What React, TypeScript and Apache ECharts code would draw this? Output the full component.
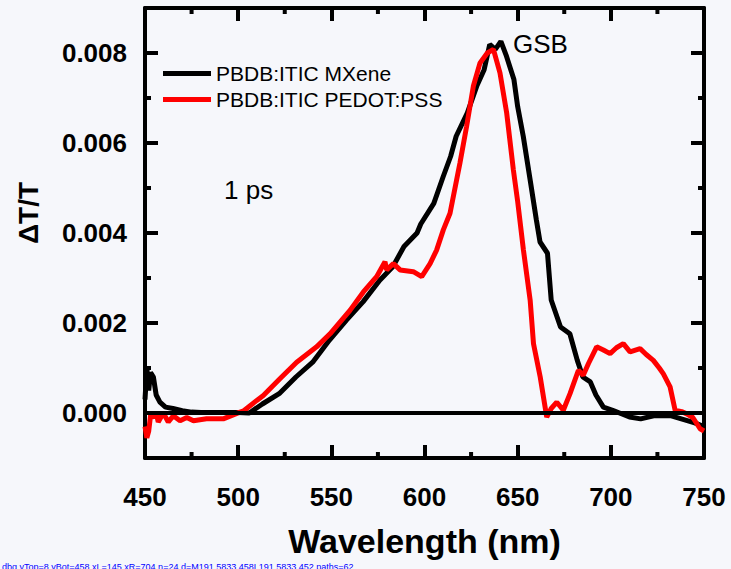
import React, { useEffect, useRef } from "react";
import * as echarts from "echarts";

const xTicks = [450, 500, 550, 600, 650, 700, 750];
const xMinorTicks = [475, 525, 575, 625, 675, 725];
const yMajorTicks = [0, 0.002, 0.004, 0.006, 0.008];
const yMinorTicks = [-0.001, 0.001, 0.003, 0.005, 0.007, 0.009];

const mxWl = [450, 451, 452, 453, 454.5, 456, 458, 461, 465, 470, 475, 480, 490, 500, 506, 513, 522, 531, 540, 549, 558, 567, 576, 583, 589, 596, 598, 605, 610, 614, 617, 623, 628, 632, 635, 638, 641, 644, 648, 650, 653, 657, 660, 662, 666, 668, 673, 678, 682, 685, 689, 692, 696, 701, 710, 716, 723, 732, 741, 745, 750];
const mxVal = [0.0003, 0.001, 0.0005, 0.0009, 0.0008, 0.0004, 0.00024, 0.00013, 0.0001, 0.00005, 0.00002, 0.00001, 0.00001, 0.00001, 0, 0.0002, 0.00043, 0.0008, 0.00113, 0.00162, 0.00206, 0.00247, 0.00295, 0.00325, 0.0037, 0.004, 0.0042, 0.00466, 0.00525, 0.0057, 0.00615, 0.00667, 0.00726, 0.00763, 0.00819, 0.00808, 0.00826, 0.00793, 0.00741, 0.00681, 0.00615, 0.0051, 0.0043, 0.0038, 0.00355, 0.00251, 0.00191, 0.00176, 0.00117, 0.0008, 0.00069, 0.0004, 0.00013, 0.00006, -0.00009, -0.00013, -0.00006, -0.00006, -0.00017, -0.00022, -0.0003];

const pdWl = [450, 451, 452, 453, 454.5, 456, 457.1, 459.8, 462.5, 465.2, 468.8, 472.4, 476, 483, 492, 501, 503, 510, 513.5, 522.4, 531.4, 542.1, 549.3, 560, 567.2, 574.3, 578.8, 579.7, 583.3, 586.9, 594, 598.5, 603, 606.5, 610.1, 613.7, 619, 622.6, 626.2, 629.8, 633.7, 637, 640.5, 644.1, 647.7, 650, 653.1, 656.7, 658.5, 662.1, 665.6, 668, 671, 674.5, 678.1, 682.6, 685.2, 688, 692.4, 696, 699.6, 703, 706.7, 710.3, 715.7, 719, 722.8, 726, 728.2, 731.8, 734.5, 738, 740.7, 744, 747.9, 750];
const pdVal = [-0.0003, -0.00055, -0.0004, -0.00005, -0.0001, 0, -0.0002, 0, -0.0002, -0.00006, -0.00017, -0.0001, -0.00017, -0.00013, -0.00013, 0.00002, 0.00005, 0.00028, 0.00039, 0.00076, 0.00113, 0.00147, 0.00176, 0.00228, 0.00269, 0.00303, 0.00336, 0.00318, 0.00332, 0.00318, 0.00314, 0.00303, 0.00332, 0.00362, 0.00407, 0.00444, 0.00555, 0.00637, 0.00726, 0.00778, 0.008, 0.00808, 0.00756, 0.00667, 0.0054, 0.0047, 0.00362, 0.00251, 0.00154, 0.0008, -0.00009, 0.0001, 0.00024, 0.00006, 0.00043, 0.00095, 0.00084, 0.0011, 0.00147, 0.0014, 0.00132, 0.00145, 0.00154, 0.00136, 0.00143, 0.0013, 0.00117, 0.001, 0.00087, 0.00058, 0.00006, 0.00003, -0.00002, -0.0001, -0.00035, -0.0004];

const seriesNames = ["PBDB:ITIC MXene", "PBDB:ITIC PEDOT:PSS"];
const FONT = "Liberation Sans, Arial, sans-serif";

export default function App() {
  const ref = useRef<HTMLDivElement>(null);
  useEffect(() => {
    if (!ref.current) return;
    const chart = echarts.init(ref.current, undefined, { renderer: "svg" });
    const lineW = 5;
    const tickStyle = { color: "#000", width: 4 };
    const yBase = {
      type: "value",
      min: -0.001,
      max: 0.009,
      splitLine: { show: false },
      axisLine: { show: true, onZero: false, lineStyle: { color: "#000", width: 4 } },
    };
    const majorY = { show: true, inside: true, length: 13, lineStyle: tickStyle, customValues: yMajorTicks };
    const minorY = { show: true, inside: true, length: 6, lineStyle: tickStyle, customValues: yMinorTicks };
    const majorX = { show: true, inside: true, length: 13, lineStyle: tickStyle, customValues: xTicks };
    const minorX = { show: true, inside: true, length: 6, lineStyle: tickStyle, customValues: xMinorTicks };
    const texts: any[] = [
      {
        type: "text",
        x: 28,
        y: 213,
        rotation: Math.PI / 2,
        style: { text: "ΔT/T", fontFamily: FONT, fontSize: 28, fontWeight: "bold", fill: "#000", align: "center", verticalAlign: "middle" },
      },
      { type: "text", x: 513, y: 44, style: { text: "GSB", fontFamily: FONT, fontSize: 26, fill: "#000", align: "left", verticalAlign: "middle" } },
      { type: "text", x: 224, y: 190, style: { text: "1 ps", fontFamily: FONT, fontSize: 26, fill: "#000", align: "left", verticalAlign: "middle" } },
    ];
    chart.setOption({
      animation: false,
      backgroundColor: "#f6f7fb",
      grid: { left: 145, right: 27, top: 8, bottom: 111 },
      legend: {
        orient: "vertical",
        left: 158,
        top: 58,
        itemWidth: 48,
        itemHeight: 5,
        itemGap: 5,
        icon: "rect",
        data: seriesNames,
        textStyle: { fontFamily: FONT, fontSize: 21, color: "#000" },
      },
      xAxis: [
        {
          type: "value",
          min: 450,
          max: 750,
          position: "bottom",
          axisLine: { show: true, onZero: false, lineStyle: { color: "#000", width: 4 } },
          axisTick: majorX,
          splitLine: { show: false },
          name: "Wavelength (nm)",
          nameLocation: "middle",
          nameGap: 66,
          nameTextStyle: { fontFamily: FONT, fontSize: 34, fontWeight: "bold", color: "#000" },
          axisLabel: { show: true, margin: 26, fontFamily: FONT, fontSize: 26, fontWeight: "bold", color: "#000", customValues: xTicks },
        },
        {
          type: "value",
          min: 450,
          max: 750,
          position: "top",
          axisLine: { show: true, onZero: false, lineStyle: { color: "#000", width: 4 } },
          axisTick: majorX,
          splitLine: { show: false },
          axisLabel: { show: false },
        },
      ],
      yAxis: [
        {
          ...yBase,
          position: "left",
          axisTick: majorY,
          axisLabel: {
            show: true, margin: 18, fontFamily: FONT, fontSize: 26, fontWeight: "bold", color: "#000",
            customValues: yMajorTicks, formatter: (v: number) => v.toFixed(3),
          },
        },
        { ...yBase, position: "right", axisTick: majorY, axisLabel: { show: false } },
      ],
      graphic: texts,
      series: [
        {
          name: seriesNames[0], type: "line", xAxisIndex: 0, yAxisIndex: 0, showSymbol: false, symbol: "none",
          color: "#000000", lineStyle: { color: "#000000", width: lineW },
          data: mxWl.map((w, i) => [w, mxVal[i]]),
          markLine: { silent: true, symbol: "none", label: { show: false }, lineStyle: { color: "#000", width: 4, type: "solid" }, data: [{ yAxis: 0 }] },
        },
        {
          name: seriesNames[1], type: "line", xAxisIndex: 0, yAxisIndex: 0, showSymbol: false, symbol: "none",
          color: "#ff0000", lineStyle: { color: "#ff0000", width: lineW },
          data: pdWl.map((w, i) => [w, pdVal[i]]),
        },
      ],
    });

    // minor ticks on x (and minor y ticks) as graphic lines placed through the scales
    const yTop = chart.convertToPixel({ yAxisIndex: 0 }, 0.009) as number;
    const yBottom = chart.convertToPixel({ yAxisIndex: 0 }, -0.001) as number;
    const xLeft = chart.convertToPixel({ xAxisIndex: 0 }, 450) as number;
    const xRight = chart.convertToPixel({ xAxisIndex: 0 }, 750) as number;
    const tickLines: any[] = [];
    const st = { stroke: "#010101", lineWidth: 4 };
    xMinorTicks.forEach((v) => {
      const px = chart.convertToPixel({ xAxisIndex: 0 }, v) as number;
      tickLines.push({ type: "line", z: 10, shape: { x1: px, y1: yBottom, x2: px, y2: yBottom - 6 }, style: st });
      tickLines.push({ type: "line", z: 10, shape: { x1: px, y1: yTop, x2: px, y2: yTop + 6 }, style: st });
    });
    yMinorTicks.forEach((v) => {
      const py = chart.convertToPixel({ yAxisIndex: 0 }, v) as number;
      tickLines.push({ type: "line", z: 10, shape: { x1: xLeft, y1: py, x2: xLeft + 6, y2: py }, style: st });
      tickLines.push({ type: "line", z: 10, shape: { x1: xRight, y1: py, x2: xRight - 6, y2: py }, style: st });
    });
    chart.setOption({ graphic: [...texts, ...tickLines] });

    const t = setTimeout(() => {
      const el = ref.current;
      if (!el) return;
      const n = el.querySelectorAll('[stroke="#010101"]').length;
      const f = el.querySelector('[stroke="#010101"]');
      const info = `dbg yTop=${yTop} yBot=${yBottom} xL=${xLeft} xR=${xRight} n=${n} d=${f ? f.getAttribute("d") : "-"} paths=${el.querySelectorAll("path").length}`;
      chart.setOption({ graphic: [...texts, ...tickLines, { type: "text", x: 2, y: 562, style: { text: info, fontSize: 9, fill: "#00f" } }] });
    }, 200);

    return () => {
      clearTimeout(t);
      chart.dispose();
    };
  }, []);
  return <div ref={ref} style={{ position: "fixed", left: 0, top: 0, width: 731, height: 569 }} />;
}
